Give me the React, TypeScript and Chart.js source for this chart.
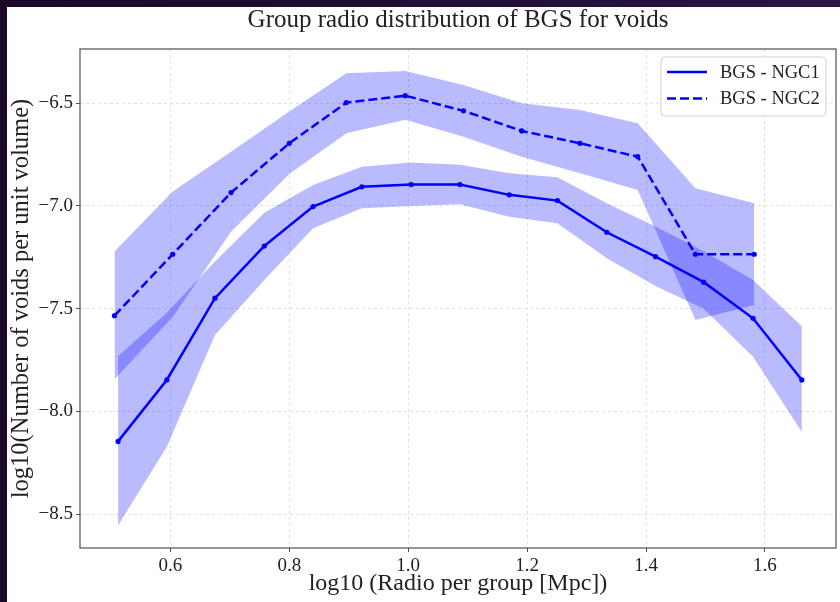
import React, { useEffect, useRef } from 'react';
import { Chart, registerables } from 'chart.js';

Chart.register(...registerables);

const titleText = 'Group radio distribution of BGS for voids';
const xLabel = 'log10 (Radio per group [Mpc])';
const yLabel = 'log10(Number of voids per unit volume)';
const seriesLabels = ['BGS - NGC1', 'BGS - NGC2'];

const xTicks = [0.6, 0.8, 1.0, 1.2, 1.4, 1.6];
const yTicks = [-8.5, -8.0, -7.5, -7.0, -6.5];

const ngc1X = [0.512, 0.594, 0.675, 0.758, 0.840, 0.922, 1.005, 1.087, 1.170, 1.251, 1.334, 1.416, 1.497, 1.580, 1.662];
const ngc1Y = [-8.146, -7.847, -7.449, -7.195, -7.003, -6.907, -6.896, -6.896, -6.946, -6.974, -7.128, -7.247, -7.371, -7.547, -7.847];
const ngc1Upper = [-7.73, -7.52, -7.27, -7.033, -6.898, -6.809, -6.789, -6.80, -6.841, -6.86, -6.987, -7.10, -7.22, -7.36, -7.585];
const ngc1Lower = [-8.556, -8.172, -7.628, -7.36, -7.109, -7.011, -7.0, -6.992, -7.052, -7.084, -7.255, -7.39, -7.50, -7.734, -8.10];

const ngc2X = [0.506, 0.604, 0.702, 0.800, 0.896, 0.995, 1.093, 1.191, 1.289, 1.386, 1.483, 1.582];
const ngc2Y = [-7.534, -7.235, -6.935, -6.695, -6.497, -6.463, -6.537, -6.635, -6.695, -6.760, -7.235, -7.235];
const ngc2Upper = [-7.222, -6.93, -6.736, -6.54, -6.354, -6.343, -6.411, -6.50, -6.533, -6.597, -6.914, -6.987];
const ngc2Lower = [-7.843, -7.54, -7.125, -6.845, -6.646, -6.581, -6.663, -6.76, -6.841, -6.922, -7.555, -7.482];

const FONT = '"Liberation Serif", "Times New Roman", serif';
const BLUE = '#0000ff';
const BAND = 'rgba(0, 0, 255, 0.27)';
const TEXT = '#222222';

const pts = (xs: number[], ys: number[]) => xs.map((x, i) => ({ x, y: ys[i] }));

const fmt = (v: number | string) => Number(v).toFixed(1).replace('-', '\u2212');

const framePlugin = {
  id: 'frame',
  afterDraw(chart: any) {
    const { ctx, chartArea: a } = chart;
    ctx.save();
    ctx.strokeStyle = '#505050';
    ctx.lineWidth = 1.2;
    ctx.strokeRect(a.left, a.top, a.right - a.left, a.bottom - a.top);
    ctx.restore();
  },
};

const titlePlugin = {
  id: 'axesTitle',
  afterDraw(chart: any) {
    const { ctx, chartArea: a } = chart;
    ctx.save();
    ctx.fillStyle = TEXT;
    ctx.font = `25px ${FONT}`;
    ctx.textAlign = 'center';
    ctx.textBaseline = 'middle';
    ctx.fillText(titleText, (a.left + a.right) / 2, 13);
    ctx.restore();
  },
};

const legendPlugin = {
  id: 'boxLegend',
  afterDraw(chart: any) {
    const { ctx, chartArea: a } = chart;
    const items = chart.data.datasets.filter((d: any) => d.label);
    const w = 165;
    const h = 59;
    const x = a.right - 10 - w;
    const y = a.top + 8;
    const r = 4;
    ctx.save();
    ctx.beginPath();
    ctx.moveTo(x + r, y);
    ctx.lineTo(x + w - r, y);
    ctx.arcTo(x + w, y, x + w, y + r, r);
    ctx.lineTo(x + w, y + h - r);
    ctx.arcTo(x + w, y + h, x + w - r, y + h, r);
    ctx.lineTo(x + r, y + h);
    ctx.arcTo(x, y + h, x, y + h - r, r);
    ctx.lineTo(x, y + r);
    ctx.arcTo(x, y, x + r, y, r);
    ctx.closePath();
    ctx.fillStyle = 'rgba(255,255,255,0.85)';
    ctx.fill();
    ctx.strokeStyle = '#d0d0d0';
    ctx.lineWidth = 1;
    ctx.stroke();
    items.forEach((d: any, i: number) => {
      const cy = y + 15 + i * 26.6;
      ctx.beginPath();
      ctx.setLineDash(d.borderDash || []);
      ctx.strokeStyle = d.borderColor;
      ctx.lineWidth = d.borderWidth;
      ctx.moveTo(x + 6, cy);
      ctx.lineTo(x + 46, cy);
      ctx.stroke();
      ctx.setLineDash([]);
      ctx.fillStyle = TEXT;
      ctx.font = `18.5px ${FONT}`;
      ctx.textBaseline = 'middle';
      ctx.textAlign = 'left';
      ctx.fillText(d.label, x + 59, cy + 1);
    });
    ctx.restore();
  },
};

export default function App() {
  const ref = useRef<HTMLCanvasElement | null>(null);

  useEffect(() => {
    if (!ref.current) return;
    const chart = new Chart(ref.current, {
      type: 'line',
      data: {
        datasets: [
          {
            label: seriesLabels[0],
            data: pts(ngc1X, ngc1Y),
            borderColor: BLUE,
            backgroundColor: BLUE,
            borderWidth: 2.5,
            pointRadius: 2.6,
            pointBorderWidth: 0,
            pointBackgroundColor: BLUE,
            fill: false,
            tension: 0,
          },
          {
            label: seriesLabels[1],
            data: pts(ngc2X, ngc2Y),
            borderColor: BLUE,
            backgroundColor: BLUE,
            borderWidth: 2.5,
            borderDash: [9, 4],
            pointRadius: 2.6,
            pointBorderWidth: 0,
            pointBackgroundColor: BLUE,
            fill: false,
            tension: 0,
          },
          {
            data: pts(ngc1X, ngc1Upper),
            borderColor: 'rgba(0,0,0,0)',
            backgroundColor: BAND,
            pointRadius: 0,
            fill: '+1',
            tension: 0,
          },
          {
            data: pts(ngc1X, ngc1Lower),
            borderColor: 'rgba(0,0,0,0)',
            backgroundColor: BAND,
            pointRadius: 0,
            fill: false,
            tension: 0,
          },
          {
            data: pts(ngc2X, ngc2Upper),
            borderColor: 'rgba(0,0,0,0)',
            backgroundColor: BAND,
            pointRadius: 0,
            fill: '+1',
            tension: 0,
          },
          {
            data: pts(ngc2X, ngc2Lower),
            borderColor: 'rgba(0,0,0,0)',
            backgroundColor: BAND,
            pointRadius: 0,
            fill: false,
            tension: 0,
          },
        ] as any,
      },
      options: {
        responsive: false,
        animation: false,
        events: [],
        layout: { padding: { top: 42, right: 2, bottom: 0, left: 0 } },
        plugins: {
          legend: { display: false },
          tooltip: { enabled: false },
          title: { display: false },
        },
        scales: {
          x: {
            type: 'linear',
            min: 0.448,
            max: 1.7195,
            afterBuildTicks: (s: any) => {
              s.ticks = xTicks.map((v) => ({ value: v }));
            },
            afterFit: (s: any) => {
              s.height = 54;
            },
            ticks: {
              color: TEXT,
              font: { family: FONT, size: 19 },
              padding: 3,
              maxRotation: 0,
              callback: (v: any) => fmt(v),
            },
            grid: {
              color: '#dadada',
              lineWidth: 0.8,
              tickColor: '#505050',
              tickLength: 4,
              tickWidth: 1,
            },
            border: { display: false, dash: [3, 3] },
            title: {
              display: true,
              text: xLabel,
              color: TEXT,
              font: { family: FONT, size: 24 },
              padding: { top: 0, bottom: 4 },
            },
          },
          y: {
            type: 'linear',
            min: -8.665,
            max: -6.236,
            afterBuildTicks: (s: any) => {
              s.ticks = yTicks.map((v) => ({ value: v }));
            },
            afterFit: (s: any) => {
              s.width = 73;
            },
            ticks: {
              color: TEXT,
              font: { family: FONT, size: 19 },
              padding: 3,
              callback: (v: any) => fmt(v),
            },
            grid: {
              color: '#dadada',
              lineWidth: 0.8,
              tickColor: '#505050',
              tickLength: 4,
              tickWidth: 1,
            },
            border: { display: false, dash: [3, 3] },
            title: {
              display: true,
              text: yLabel,
              color: TEXT,
              font: { family: FONT, size: 24.5 },
              padding: { top: 0, bottom: 0 },
            },
          },
        },
      },
      plugins: [framePlugin, titlePlugin, legendPlugin],
    } as any);
    return () => chart.destroy();
  }, []);

  return (
    <div
      style={{
        position: 'fixed',
        left: 0,
        top: 0,
        width: 840,
        height: 602,
        background: 'linear-gradient(90deg, #1b0827 0%, #230e38 60%, #2c1448 100%)',
        overflow: 'hidden',
      }}
    >
      <div
        style={{
          position: 'absolute',
          left: 7,
          top: 7,
          width: 833,
          height: 595,
          background: '#ffffff',
        }}
      >
        <canvas ref={ref} width={833} height={595} style={{ display: 'block' }} />
      </div>
    </div>
  );
}
